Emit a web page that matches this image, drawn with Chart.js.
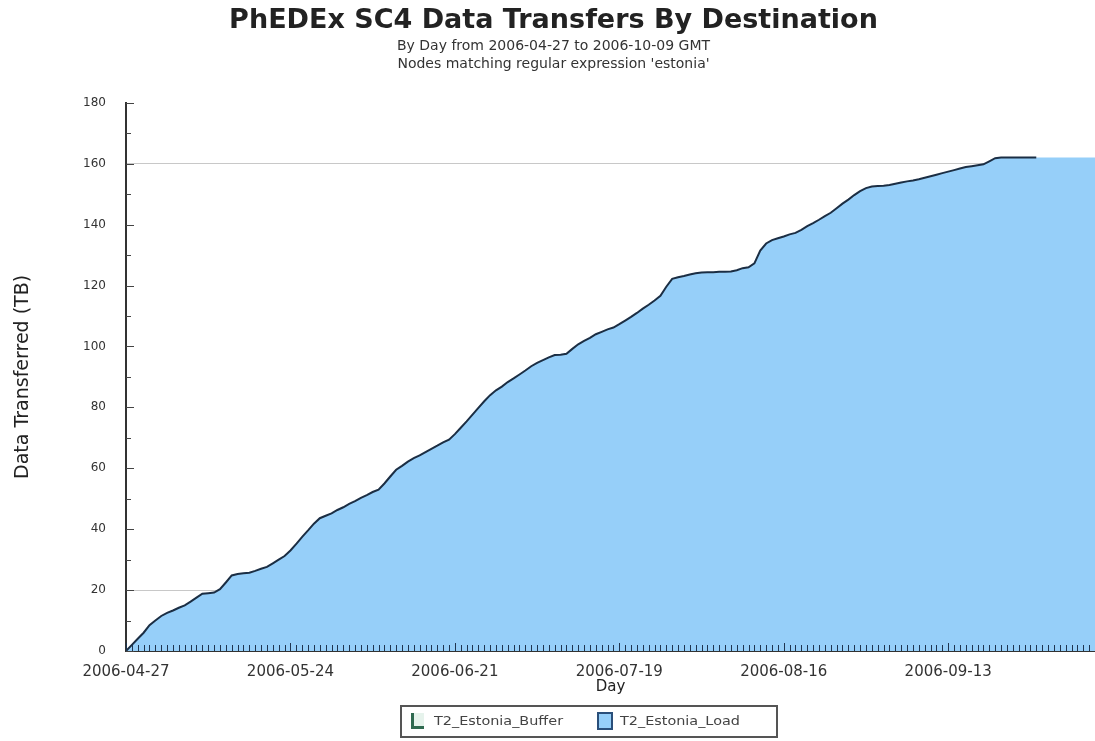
<!DOCTYPE html>
<html lang="en">
<head>
<meta charset="UTF-8">
<title>PhEDEx SC4 Data Transfers By Destination</title>
<script src="https://cdn.jsdelivr.net/npm/chart.js@4.4.0/dist/chart.umd.min.js"></script>
<style>
    html, body { margin: 0; padding: 0; background: #fff; }
    #wrap { width: 1095px; height: 741px; }
</style>
</head>
<body>
<div id="wrap"><canvas id="transfers" width="1095" height="741"></canvas></div>

<script>
// cumulative TB transferred to T2_Estonia_Load, one value per day starting 2006-04-27
const loadTB = [
    0, 2, 4, 6, 8.5, 10, 11.5, 12.5, 13.3, 14.2,
    15, 16.2, 17.5, 18.8, 19, 19.2, 20.3, 22.5, 24.8, 25.3,
    25.5, 25.7, 26.3, 27, 27.6, 28.8, 30, 31.2, 33, 35.2,
    37.5, 39.6, 41.8, 43.6, 44.4, 45.2, 46.3, 47.2, 48.3, 49.2,
    50.3, 51.2, 52.2, 53, 55, 57.3, 59.5, 60.8, 62.2, 63.3,
    64.2, 65.3, 66.4, 67.4, 68.5, 69.4, 71.2, 73.3, 75.4, 77.6,
    79.8, 82, 84, 85.6, 86.8, 88.3, 89.5, 90.8, 92.1, 93.5,
    94.6, 95.5, 96.4, 97.2, 97.3, 97.6, 99.2, 100.7, 101.8, 102.8,
    104, 104.8, 105.6, 106.2, 107.3, 108.5, 109.7, 111, 112.4, 113.7,
    115.1, 116.6, 119.6, 122.2, 122.7, 123.1, 123.6, 124, 124.3, 124.4,
    124.4, 124.5, 124.5, 124.6, 125, 125.7, 126, 127.3, 131.5, 133.8,
    134.9, 135.5, 136.1, 136.8, 137.3, 138.3, 139.5, 140.5, 141.6, 142.8,
    143.9, 145.4, 146.9, 148.2, 149.7, 151, 152, 152.5, 152.7, 152.8,
    153, 153.4, 153.8, 154.2, 154.5, 154.9, 155.4, 155.9, 156.4, 156.9,
    157.4, 157.9, 158.4, 158.9, 159.2, 159.5, 159.8, 160.8, 161.8, 162,
    162, 162, 162, 162, 162, 162, 162, 162, 162, 162,
    162, 162, 162, 162, 162, 162
];
const lineEndDay = 155;   // outline stops here, the fill carries on

const tickDays = [0, 28, 56, 84, 112, 140];
const tickLabels = ['2006-04-27', '2006-05-24', '2006-06-21', '2006-07-19', '2006-08-16', '2006-09-13'];
const gridValues = [20, 160];
const legendNames = ['T2_Estonia_Buffer', 'T2_Estonia_Load'];

const FONT = "'DejaVu Sans', Verdana, sans-serif";
const FILL = '#96cff9';
const EDGE = '#1b2e44';

// small ticks pointing into the plot, like the original
const innerTicks = {
    id: 'innerTicks',
    afterDraw(chart) {
        const { ctx, chartArea: a, scales: { x, y } } = chart;
        ctx.save();
        ctx.lineWidth = 1;
        ctx.strokeStyle = '#1f3550';
        for (let d = 0; d <= x.max; d++) {
            const px = Math.round(x.getPixelForValue(d)) + 0.5;
            const len = d % 28 === 0 ? 8 : 6;
            ctx.beginPath();
            ctx.moveTo(px, a.bottom);
            ctx.lineTo(px, a.bottom - len);
            ctx.stroke();
        }
        ctx.strokeStyle = '#444';
        for (let v = 0; v <= y.max; v += 10) {
            const py = Math.round(y.getPixelForValue(v)) + 0.5;
            const len = v % 20 === 0 ? 8 : 5;
            ctx.beginPath();
            ctx.moveTo(a.left, py);
            ctx.lineTo(a.left + len, py);
            ctx.stroke();
        }
        ctx.restore();
    }
};

// boxed legend under the x axis title
const boxLegend = {
    id: 'boxLegend',
    afterDraw(chart) {
        const ctx = chart.ctx;
        ctx.save();
        ctx.fillStyle = '#fff';
        ctx.fillRect(401, 706, 376, 31);
        ctx.strokeStyle = '#555';
        ctx.lineWidth = 2;
        ctx.strokeRect(401, 706, 376, 31);

        // Buffer icon: open box with dark left/bottom edges
        ctx.fillStyle = '#e6f3ec';
        ctx.fillRect(411, 713, 13, 16);
        ctx.fillStyle = '#2f6a50';
        ctx.fillRect(411, 713, 3, 16);
        ctx.fillRect(411, 726, 13, 3);

        // Load icon
        ctx.fillStyle = FILL;
        ctx.fillRect(598, 713, 14, 16);
        ctx.strokeStyle = '#2a4f7a';
        ctx.lineWidth = 2;
        ctx.strokeRect(598, 713, 14, 16);

        ctx.fillStyle = '#444';
        ctx.font = '12px ' + FONT;
        ctx.textBaseline = 'middle';
        [[434, legendNames[0]], [620, legendNames[1]]].forEach(([lx, txt]) => {
            ctx.save();
            ctx.translate(lx, 722);
            ctx.scale(1.2, 1);
            ctx.fillText(txt, 0, 0);
            ctx.restore();
        });
        ctx.restore();
    }
};

const ctx = document.getElementById('transfers').getContext('2d');

new Chart(ctx, {
    type: 'line',
    data: {
        datasets: [{
            // dark outline, drawn on top, stops at lineEndDay
            label: legendNames[1] + ' outline',
            data: loadTB.slice(0, lineEndDay + 1).map((v, i) => ({ x: i, y: v })),
            fill: false,
            borderColor: EDGE,
            borderWidth: 2,
            pointRadius: 0,
            tension: 0
        }, {
            // area, runs to the right edge
            label: legendNames[1],
            data: loadTB.map((v, i) => ({ x: i, y: v })),
            fill: 'origin',
            backgroundColor: FILL,
            borderWidth: 0,
            pointRadius: 0,
            tension: 0
        }]
    },
    options: {
        responsive: false,
        animation: false,
        events: [],
        layout: { padding: { left: 12, right: 0, top: 0, bottom: 45 } },
        plugins: {
            legend: { display: false },
            tooltip: { enabled: false },
            title: {
                display: true,
                text: 'PhEDEx SC4 Data Transfers By Destination',
                color: '#222',
                font: { family: FONT, size: 27, weight: 'bold', lineHeight: 1.2 },
                padding: { top: 5, bottom: 0 }
            },
            subtitle: {
                display: true,
                text: ['By Day from 2006-04-27 to 2006-10-09 GMT', "Nodes matching regular expression 'estonia'"],
                color: '#333',
                font: { family: FONT, size: 14, lineHeight: 1.3 },
                padding: { top: 0, bottom: 29 }
            }
        },
        scales: {
            x: {
                type: 'linear',
                min: 0,
                max: 165,
                afterBuildTicks: s => { s.ticks = tickDays.map(v => ({ value: v })); },
                afterFit: s => { s.height = 45; },
                ticks: {
                    autoSkip: false,
                    maxRotation: 0,
                    padding: 4,
                    color: '#333',
                    font: { family: FONT, size: 15 },
                    callback: v => tickLabels[tickDays.indexOf(v)]
                },
                grid: { display: false },
                border: { display: true, color: '#333', width: 2 },
                title: {
                    display: true,
                    text: 'Day',
                    color: '#222',
                    font: { family: FONT, size: 15 },
                    padding: 0
                }
            },
            y: {
                min: 0,
                max: 180,
                afterFit: s => { s.width = 114; },
                ticks: {
                    stepSize: 20,
                    padding: 20,
                    color: '#333',
                    font: { family: FONT, size: 12 }
                },
                grid: {
                    drawTicks: false,
                    color: c => gridValues.includes(c.tick && c.tick.value) ? '#c8c8c8' : 'rgba(0,0,0,0)'
                },
                border: { display: true, color: '#333', width: 2 },
                title: {
                    display: true,
                    text: 'Data Transferred (TB)',
                    color: '#222',
                    font: { family: FONT, size: 19 },
                    padding: 0
                }
            }
        }
    },
    plugins: [innerTicks, boxLegend]
});
</script>
</body>
</html>
